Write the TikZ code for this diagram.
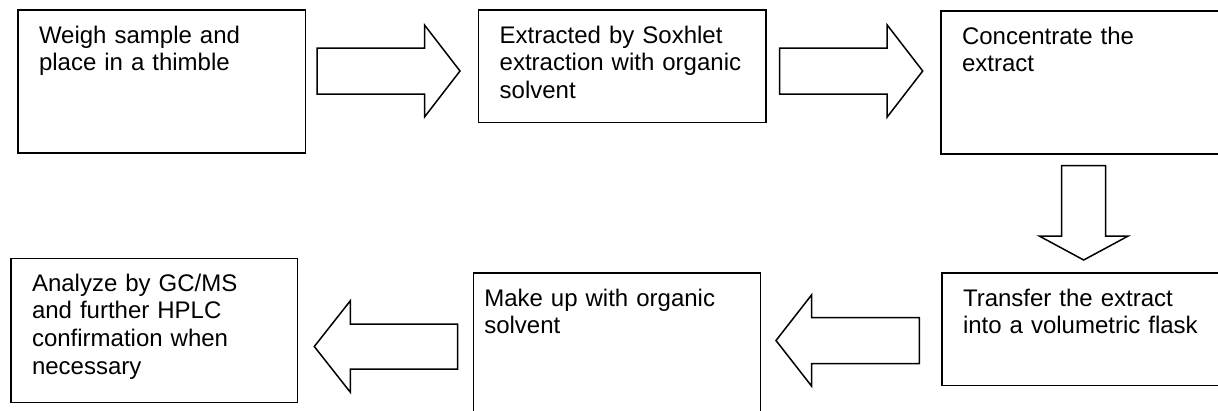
\documentclass[tikz,border=0pt]{standalone}
\usepackage{fontspec}
\setmainfont{Liberation Sans}
\usepackage{tikz}

\begin{document}
\begin{tikzpicture}[
        x=1pt, y=-1pt,
        % Define styles for consistency
        stepbox/.style={draw=black, line width=1.5pt, anchor=north west, align=left,
            inner xsep=21pt, inner ysep=0pt, outer sep=0pt, text height=33pt,
            font=\fontsize{24}{27.6}\selectfont},
        outline/.style={draw=black, line width=1.5pt, fill=white, line join=miter},
        pics/blockarrow/.style n args={4}{code={
            \draw[outline] (0,-#2) -- (#1-#4,-#2) -- (#1-#4,-#3) -- (#1,0)
                -- (#1-#4,#3) -- (#1-#4,#2) -- (0,#2) -- cycle;}}
    ]
        \useasboundingbox (0,0) rectangle (1218,410);
        \clip (0,0) rectangle (1218,410);

        % --- Steps ---
        % Top row
        \node[stepbox, text width=245.5pt, text depth=110pt] (weigh) at (18,10)
            {Weigh sample and\\place in a thimble};
        \node[stepbox, text width=245.3pt, text depth=79.7pt] (soxhlet) at (478.7,10)
            {Extracted by Soxhlet\\extraction with organic\\solvent};
        \node[stepbox, text width=245.5pt, text depth=110pt] (concentrate) at (941,11)
            {Concentrate the\\extract};

        % Bottom row
        \node[stepbox, text width=245.5pt, text depth=79.3pt] (transfer) at (942,273)
            {Transfer the extract\\into a volumetric flask};
        \node[stepbox, inner xsep=11pt, text width=265.4pt, text depth=110pt] (makeup) at (473.3,273)
            {Make up with organic\\solvent};
        \node[stepbox, text width=244.7pt, text depth=111pt] (analyze) at (11,258.3)
            {Analyze by GC/MS\\and further HPLC\\confirmation when\\necessary};

        % --- Coordinates ---
        % Tails of the block arrows
        \coordinate (tail1) at (317,71);
        \coordinate (tail2) at (779.7,71);
        \coordinate (tail3) at (1083.7,165.7);
        \coordinate (tail4) at (919.3,340.5);
        \coordinate (tail5) at (457.7,346.5);

        % --- Draw Arrows ---
        \pic at (tail1) {blockarrow={143}{23}{46}{35.5}};
        \pic at (tail2) {blockarrow={143}{23}{46}{35.5}};
        \pic[rotate=-90] at (tail3) {blockarrow={94.3}{22}{44.5}{24}};
        \pic[rotate=180] at (tail4) {blockarrow={143.3}{23}{45.5}{35.5}};
        \pic[rotate=180] at (tail5) {blockarrow={143.4}{22.5}{45.7}{36}};

    \end{tikzpicture}
\end{document}
